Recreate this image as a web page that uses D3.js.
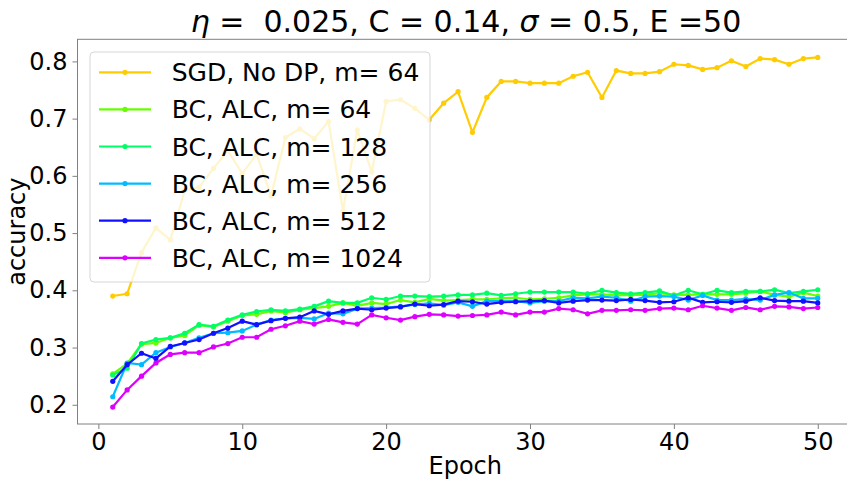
<!DOCTYPE html>
<html>
<head>
<meta charset="utf-8">
<script src="https://cdn.jsdelivr.net/npm/d3@7"></script>
<style>
  body { margin: 0; background: #fff; }
  text { font-family: "DejaVu Sans", sans-serif; }
</style>
</head>
<body>
<div id="chart"></div>
<script>
// chart data
const epochs = d3.range(1, 51);

const seriesNames = [
    "SGD, No DP, m= 64",
    "BC, ALC, m= 64",
    "BC, ALC, m= 128",
    "BC, ALC, m= 256",
    "BC, ALC, m= 512",
    "BC, ALC, m= 1024"
];

const seriesColors = ["#ffcc00", "#66ff00", "#00ff66", "#00bbff", "#1111ff", "#dd00ff"];

const sgd64 = [0.390, 0.394, 0.466, 0.509, 0.488, 0.575, 0.580, 0.613, 0.644, 0.604,
    0.638, 0.565, 0.667, 0.682, 0.665, 0.695, 0.539, 0.680, 0.607, 0.730,
    0.733, 0.718, 0.698, 0.727, 0.747, 0.676, 0.737, 0.765, 0.765, 0.762,
    0.762, 0.762, 0.774, 0.781, 0.737, 0.784, 0.779, 0.779, 0.782, 0.795,
    0.793, 0.786, 0.789, 0.801, 0.791, 0.805, 0.803, 0.795, 0.805, 0.807];

const bc64 = [0.254, 0.272, 0.306, 0.308, 0.317, 0.321, 0.339, 0.336, 0.346, 0.356,
    0.358, 0.364, 0.361, 0.366, 0.369, 0.372, 0.378, 0.373, 0.378, 0.376,
    0.383, 0.379, 0.385, 0.382, 0.383, 0.384, 0.384, 0.386, 0.387, 0.384,
    0.385, 0.387, 0.391, 0.393, 0.393, 0.391, 0.392, 0.392, 0.395, 0.392,
    0.392, 0.393, 0.393, 0.393, 0.395, 0.398, 0.392, 0.389, 0.396, 0.390];

const bc128 = [0.252, 0.264, 0.307, 0.314, 0.317, 0.325, 0.340, 0.337, 0.348, 0.357,
    0.363, 0.366, 0.364, 0.367, 0.372, 0.381, 0.378, 0.378, 0.387, 0.384,
    0.390, 0.390, 0.389, 0.390, 0.392, 0.392, 0.395, 0.391, 0.394, 0.397,
    0.397, 0.397, 0.397, 0.394, 0.400, 0.396, 0.394, 0.396, 0.399, 0.391,
    0.400, 0.393, 0.400, 0.396, 0.398, 0.398, 0.401, 0.395, 0.398, 0.401];

const bc256 = [0.214, 0.273, 0.270, 0.291, 0.301, 0.308, 0.317, 0.325, 0.326, 0.329,
    0.340, 0.348, 0.351, 0.352, 0.350, 0.360, 0.359, 0.368, 0.369, 0.370,
    0.372, 0.375, 0.377, 0.374, 0.379, 0.372, 0.381, 0.381, 0.381, 0.378,
    0.381, 0.381, 0.387, 0.386, 0.389, 0.387, 0.381, 0.389, 0.390, 0.389,
    0.383, 0.391, 0.383, 0.383, 0.385, 0.383, 0.392, 0.396, 0.386, 0.386];

const bc512 = [0.241, 0.270, 0.290, 0.281, 0.302, 0.308, 0.314, 0.325, 0.334, 0.346,
    0.340, 0.347, 0.351, 0.353, 0.364, 0.358, 0.364, 0.368, 0.366, 0.369,
    0.371, 0.376, 0.373, 0.375, 0.381, 0.380, 0.376, 0.379, 0.380, 0.381,
    0.382, 0.378, 0.381, 0.383, 0.383, 0.382, 0.384, 0.382, 0.379, 0.380,
    0.387, 0.379, 0.380, 0.379, 0.381, 0.387, 0.382, 0.381, 0.381, 0.378];

const bc1024 = [0.196, 0.226, 0.250, 0.273, 0.288, 0.291, 0.291, 0.301, 0.307, 0.318,
    0.318, 0.332, 0.338, 0.346, 0.341, 0.349, 0.344, 0.341, 0.357, 0.352,
    0.348, 0.354, 0.358, 0.357, 0.355, 0.356, 0.357, 0.362, 0.357, 0.362,
    0.362, 0.368, 0.366, 0.359, 0.365, 0.365, 0.366, 0.365, 0.368, 0.369,
    0.366, 0.373, 0.369, 0.365, 0.370, 0.366, 0.372, 0.371, 0.368, 0.370];

const seriesValues = [sgd64, bc64, bc128, bc256, bc512, bc1024];

const xTicks = [0, 10, 20, 30, 40, 50];
const yTicks = [0.2, 0.3, 0.4, 0.5, 0.6, 0.7, 0.8];

// layout
const width = 847, height = 479;
const plot = { left: 77.5, right: 853, top: 39.3, bottom: 424 };

const svg = d3.select("#chart")
    .append("svg")
    .attr("width", width)
    .attr("height", height);

const x = d3.scaleLinear().domain([-1.45, 52.45]).range([plot.left, plot.right]);
const y = d3.scaleLinear().domain([0.1664, 0.8386]).range([plot.bottom, plot.top]);

// axes
const xAxis = svg.append("g")
    .attr("transform", `translate(0,${plot.bottom})`)
    .call(d3.axisBottom(x).tickValues(xTicks).tickFormat(d3.format("d")).tickSize(5).tickPadding(4));

const yAxis = svg.append("g")
    .attr("transform", `translate(${plot.left},0)`)
    .call(d3.axisLeft(y).tickValues(yTicks).tickFormat(d3.format(".1f")).tickSize(5).tickPadding(5));

[xAxis, yAxis].forEach(ax => {
    ax.select(".domain").remove();
    ax.selectAll(".tick line").attr("stroke", "#808080").attr("stroke-width", 1);
    ax.selectAll(".tick text")
        .attr("fill", "#000")
        .style("font-family", "DejaVu Sans")
        .style("font-size", "24px");
});

// frame
svg.append("rect")
    .attr("x", plot.left)
    .attr("y", plot.top)
    .attr("width", plot.right - plot.left)
    .attr("height", plot.bottom - plot.top)
    .attr("fill", "none")
    .attr("stroke", "#808080")
    .attr("stroke-width", 1);

// lines
const line = d3.line()
    .x((d, i) => x(epochs[i]))
    .y(d => y(d));

seriesValues.forEach((vals, k) => {
    svg.append("path")
        .datum(vals)
        .attr("d", line)
        .attr("fill", "none")
        .attr("stroke", seriesColors[k])
        .attr("stroke-width", 2.2);

    svg.append("g")
        .selectAll("circle")
        .data(vals)
        .join("circle")
        .attr("cx", (d, i) => x(epochs[i]))
        .attr("cy", d => y(d))
        .attr("r", 2.6)
        .attr("fill", seriesColors[k]);
});

// legend
const legend = svg.append("g");
legend.append("rect")
    .attr("x", 90)
    .attr("y", 52)
    .attr("width", 340)
    .attr("height", 230)
    .attr("rx", 4)
    .attr("fill", "#fff")
    .attr("fill-opacity", 0.8)
    .attr("stroke", "#cccccc")
    .attr("stroke-opacity", 0.8);

seriesNames.forEach((name, k) => {
    const ly = 72.3 + k * 37.1;
    legend.append("line")
        .attr("x1", 99).attr("x2", 151)
        .attr("y1", ly).attr("y2", ly)
        .attr("stroke", seriesColors[k])
        .attr("stroke-width", 2.2);
    legend.append("circle")
        .attr("cx", 125).attr("cy", ly).attr("r", 2.6)
        .attr("fill", seriesColors[k]);
    legend.append("text")
        .attr("x", 171.7)
        .attr("y", ly + 9)
        .attr("font-size", "25px")
        .attr("fill", "#000")
        .text(name);
});

// axis labels
svg.append("text")
    .attr("x", (plot.left + plot.right) / 2)
    .attr("y", 474)
    .attr("text-anchor", "middle")
    .attr("font-size", "24px")
    .text("Epoch");

svg.append("text")
    .attr("transform", `translate(25,${(plot.top + plot.bottom) / 2}) rotate(-90)`)
    .attr("text-anchor", "middle")
    .attr("font-size", "24px")
    .text("accuracy");

// title (keeps the double space after the first "=")
const title = svg.append("text")
    .attr("x", 466)
    .attr("y", 32)
    .attr("text-anchor", "middle")
    .attr("font-size", "30px")
    .style("white-space", "pre");
title.append("tspan").attr("font-style", "italic").text("η");
title.append("tspan").text(" =  0.025, C = 0.14, ");
title.append("tspan").attr("font-style", "italic").text("σ");
title.append("tspan").text(" = 0.5, E =50");
</script>
</body>
</html>
